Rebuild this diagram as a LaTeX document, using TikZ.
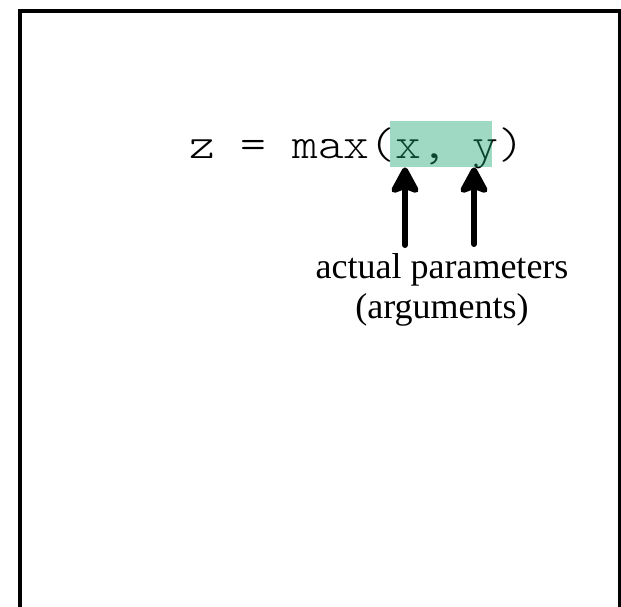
\documentclass[tikz,border=0pt]{standalone}
\usepackage{fontspec}
\setmainfont{Liberation Serif}
\newfontfamily\codefont[FakeStretch=1.117]{lmmonolt10-regular.otf}
\usetikzlibrary{arrows.meta}
\definecolor{hl}{RGB}{26,165,115}
\begin{document}
\begin{tikzpicture}[x=1pt,y=-1pt,
  frameline/.style={line width=3.5pt},
  argarrow/.style={line width=6pt,line cap=round,-{Stealth[length=31pt,width=33pt,inset=6pt,round=false]}}]
\useasboundingbox (0,0) rectangle (621,606);
\draw[frameline] (20,610) -- (20,11) -- (620,11) -- (620,610);
\node[anchor=base west,inner sep=0pt,font=\codefont\fontsize{44}{44}\selectfont] (code) at (189,158) {z = max(x, y)};
\node[fill=hl,fill opacity=0.42,inner sep=0pt,minimum width=102pt,minimum height=46pt,anchor=north west] (hlbox) at (390,121) {};
\node[anchor=base,inner sep=0pt,font=\fontsize{36}{40}\selectfont] (lab1) at (442,278) {actual parameters};
\node[anchor=base,inner sep=0pt,font=\fontsize{36}{40}\selectfont] (lab2) at (442,318) {(arguments)};
\coordinate (a1) at (405,245);
\coordinate (a2) at (474,244);
\draw[argarrow] (a1) -- (a1 |- hlbox.south);
\draw[argarrow] (a2) -- (a2 |- hlbox.south);
\end{tikzpicture}
\end{document}
